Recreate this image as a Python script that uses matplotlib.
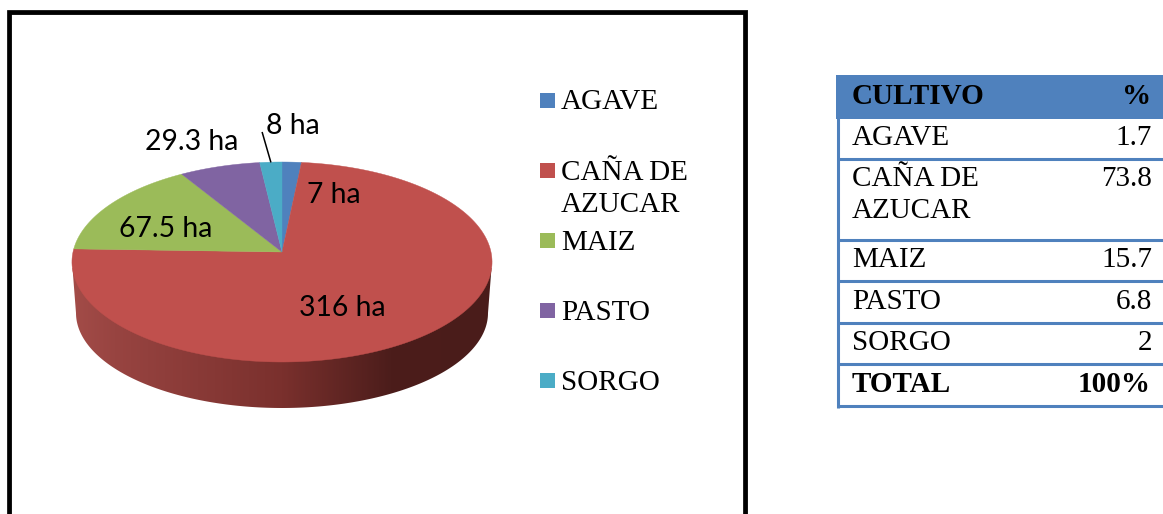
import numpy as np
import matplotlib.pyplot as plt
from matplotlib.colors import LinearSegmentedColormap
from matplotlib.patches import Polygon, Rectangle

# Data
cultivos = ["AGAVE", "CAÑA DE\nAZUCAR", "MAIZ", "PASTO", "SORGO"]
hectareas = [7, 316, 67.5, 29.3, 8]
etiquetas = ["7 ha", "316 ha", "67.5 ha", "29.3 ha", "8 ha"]
colores = ["#4f81bd", "#c0504d", "#9bbb59", "#8064a2", "#4bacc6"]

filas_tabla = ["AGAVE", "CAÑA DE\nAZUCAR", "MAIZ", "PASTO", "SORGO"]
porcentajes = ["1.7", "73.8", "15.7", "6.8", "2"]

# Pixel canvas
fig = plt.figure(figsize=(11.63, 5.14), dpi=100)
ax = fig.add_axes([0, 0, 1, 1])
ax.set_xlim(0, 1163)
ax.set_ylim(514, 0)
ax.axis("off")

SERIF = "Liberation Serif"
AZUL = "#4f81bd"
TAM = 21

# Chart frame, open at the bottom (cropped)
ax.plot([11.4, 11.4], [514, 14.4], color="#999999", lw=0.7)
ax.plot([11.4, 742], [14.4, 14.4], color="#999999", lw=0.7)
ax.plot([747.4, 747.4], [514, 10], color="#999999", lw=0.7)
ax.plot([8.5, 8.5, 744.5, 744.5], [514, 12, 12, 514], color="black", lw=3.4,
        solid_joinstyle="miter", solid_capstyle="butt")


# Pie geometry: tilted disc, with apex in front of the ellipse centre
CX, CY = 282, 252
RX, RY, K = 209, 99, 0.1


def disco(theta):
    u, v = np.sin(theta), np.cos(theta)
    w = 1 + K * v
    return CX + RX * u / w, CY - RY * v / w


# Side wall with the horizontal shading
t = np.linspace(np.pi, 2 * np.pi, 200)
xb = 282 + 206 * np.cos(t)
yb = 313 - 95 * np.sin(t)
lado = np.column_stack([np.r_[72.5, xb, 491.5], np.r_[268, yb, 268]])
muro = Polygon(lado, closed=True, fc="none", ec="none")
ax.add_patch(muro)
cmap = LinearSegmentedColormap.from_list(
    "muro", [(0, "#a34c48"), (0.1, "#984441"), (0.5, "#7a302d"),
             (0.76, "#4c1d1b"), (1, "#4a1c1a")])
img = ax.imshow(np.linspace(0, 1, 256)[None, :], cmap=cmap, aspect="auto",
                extent=(72, 492, 410, 255), zorder=1)
img.set_clip_path(muro)
ax.set_xlim(0, 1163)
ax.set_ylim(514, 0)

# Slices, clockwise from the top
angulos = np.r_[0, np.cumsum(hectareas)] / np.sum(hectareas) * 2 * np.pi
for i in range(len(hectareas)):
    th = np.linspace(angulos[i], angulos[i + 1], 200)
    x, y = disco(th)
    pts = np.column_stack([np.r_[CX, x], np.r_[CY, y]])
    ax.add_patch(Polygon(pts, closed=True, fc=colores[i], ec=colores[i], lw=0.3, zorder=2))

# Data labels
pos_etiquetas = [(334, 203), (342, 316), (166, 237), (192, 150), (292.5, 134)]
for txt, (x, y) in zip(etiquetas, pos_etiquetas):
    ax.text(x, y, txt, family="Lato", fontsize=20.4, color="black", ha="center",
            va="baseline", zorder=4)
ax.plot([262.3, 270.7], [132.7, 161.7], color="black", lw=1.1, zorder=4)

# Legend
leyenda_y = [100, 170, 240, 310, 380]
leyenda_base = [109, 180, 250, 320, 390]
for nombre, color, yc, yb in zip(cultivos, colores, leyenda_y, leyenda_base):
    ax.add_patch(Rectangle((540, yc - 7), 15, 15, fc=color, ec="none"))
    lineas = nombre.split("\n")
    for k, linea in enumerate(lineas):
        ax.text(561, yb + 32 * k, linea, family=SERIF, fontsize=TAM, va="baseline")

# Table
TX0, TX1 = 837.5, 1163
ax.add_patch(Rectangle((TX0 - 1.5, 75), TX1 - TX0 + 1.5, 44, fc=AZUL, ec="none"))
for yl in [159, 240, 281, 323, 364, 406]:
    ax.plot([TX0, TX1], [yl, yl], color=AZUL, lw=2.2, solid_capstyle="butt")
ax.plot([TX0, TX0], [75, 407.5], color=AZUL, lw=2.2, solid_capstyle="butt")

ax.text(852, 104, "CULTIVO", family=SERIF, weight="bold", fontsize=TAM, va="baseline")
ax.text(1151, 104, "%", family=SERIF, weight="bold", fontsize=TAM, ha="right", va="baseline")
tabla_base = [145, 186, 267, 309, 350]
for fila, pct, yb in zip(filas_tabla, porcentajes, tabla_base):
    for k, linea in enumerate(fila.split("\n")):
        ax.text(852, yb + 32 * k, linea, family=SERIF, fontsize=TAM, va="baseline")
    ax.text(1152, yb, pct, family=SERIF, fontsize=TAM, ha="right", va="baseline")
ax.text(852, 392, "TOTAL", family=SERIF, weight="bold", fontsize=TAM, va="baseline")
ax.text(1151, 392, "100%", family=SERIF, weight="bold", fontsize=TAM, ha="right", va="baseline")

plt.savefig("out.png", dpi=100)
